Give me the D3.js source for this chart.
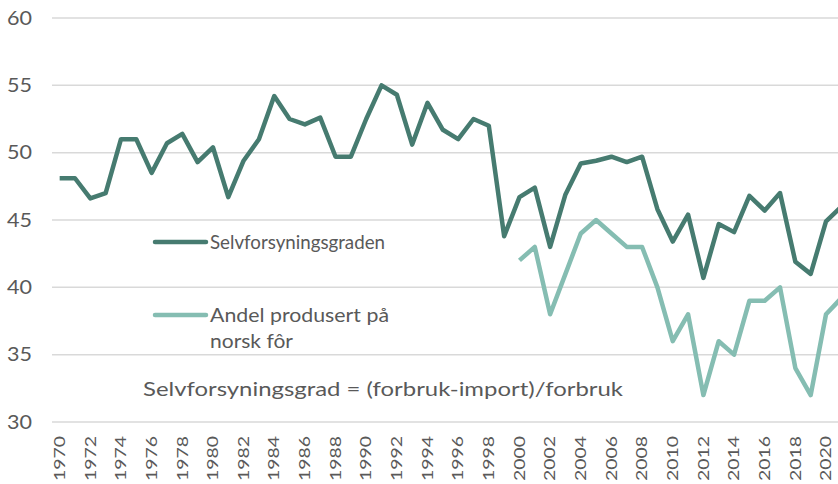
<!DOCTYPE html>
<html>
<head>
<meta charset="utf-8">
<script src="https://cdn.jsdelivr.net/npm/d3@7"></script>
<style>
  html, body { margin: 0; padding: 0; background: #fff; }
  svg { display: block; font-family: Lato, "Open Sans", sans-serif; }
</style>
</head>
<body>
<div id="chart"></div>
<script>
// data
const years = d3.range(1970, 2022);
const selvforsyning = [
  48.1, 48.1, 46.6, 47.0, 51.0, 51.0, 48.5, 50.7, 51.4, 49.3,
  50.4, 46.7, 49.4, 51.0, 54.2, 52.5, 52.1, 52.6, 49.7, 49.7,
  52.5, 55.0, 54.3, 50.6, 53.7, 51.7, 51.0, 52.5, 52.0, 43.8,
  46.7, 47.4, 43.0, 46.9, 49.2, 49.4, 49.7, 49.3, 49.7, 45.8,
  43.4, 45.4, 40.7, 44.7, 44.1, 46.8, 45.7, 47.0, 41.9, 41.0,
  44.9, 46.0
];
const norskFor = [
  null, null, null, null, null, null, null, null, null, null,
  null, null, null, null, null, null, null, null, null, null,
  null, null, null, null, null, null, null, null, null, null,
  42.0, 43.0, 38.0, 41.0, 44.0, 45.0, 44.0, 43.0, 43.0, 40.0,
  36.0, 38.0, 32.0, 36.0, 35.0, 39.0, 39.0, 40.0, 34.0, 32.0,
  38.0, 39.2
];
const yTicks = [30, 35, 40, 45, 50, 55, 60];
const seriesNames = ["Selvforsyningsgraden", "Andel produsert på norsk fôr"];
const note = "Selvforsyningsgrad = (forbruk-import)/forbruk";

const width = 838, height = 484;
const margin = { top: 18, right: -11, bottom: 62, left: 52 };
const darkCol = "#467b70", lightCol = "#85bdb2", textCol = "#595959";

const svg = d3.select("#chart").append("svg")
  .attr("width", width)
  .attr("height", height);

const x = d3.scaleBand()
  .domain(years)
  .range([margin.left, width - margin.right]);

const y = d3.scaleLinear()
  .domain([30, 60])
  .range([height - margin.bottom, margin.top]);

const cx = d => x(d) + x.bandwidth() / 2;

// gridlines
svg.append("g")
  .selectAll("line")
  .data(yTicks)
  .join("line")
  .attr("x1", margin.left)
  .attr("x2", width)
  .attr("y1", d => y(d))
  .attr("y2", d => y(d))
  .attr("stroke", "#d9d9d9")
  .attr("stroke-width", 1.5);

// y axis labels
svg.append("g")
  .selectAll("text")
  .data(yTicks)
  .join("text")
  .attr("x", 32)
  .attr("y", d => y(d))
  .attr("dy", "0.35em")
  .attr("text-anchor", "end")
  .attr("textLength", 25)
  .attr("lengthAdjust", "spacingAndGlyphs")
  .style("font-size", "19px")
  .style("fill", textCol)
  .text(d => d);

// x axis labels (every other year, rotated)
svg.append("g")
  .selectAll("text")
  .data(years.filter(d => d % 2 === 0))
  .join("text")
  .attr("transform", d => `translate(${cx(d)},${y(30) + 14}) rotate(-90)`)
  .attr("dy", "0.35em")
  .attr("text-anchor", "end")
  .attr("textLength", 45)
  .attr("lengthAdjust", "spacingAndGlyphs")
  .style("font-size", "15px")
  .style("fill", textCol)
  .text(d => d);

// lines
const line = d3.line()
  .defined(d => d[1] != null)
  .x(d => cx(d[0]))
  .y(d => y(d[1]));

svg.append("path")
  .datum(years.map((yr, i) => [yr, norskFor[i]]))
  .attr("fill", "none")
  .attr("stroke", lightCol)
  .attr("stroke-width", 4.5)
  .attr("stroke-linejoin", "round")
  .attr("d", line);

svg.append("path")
  .datum(years.map((yr, i) => [yr, selvforsyning[i]]))
  .attr("fill", "none")
  .attr("stroke", darkCol)
  .attr("stroke-width", 4.5)
  .attr("stroke-linejoin", "round")
  .attr("d", line);

// legend
const legend = svg.append("g");
const legendItems = [
  { color: darkCol, ly: 242, lines: [[seriesNames[0], 249, 175]] },
  { color: lightCol, ly: 315, lines: [["Andel produsert på", 322, 179], ["norsk fôr", 348, 83]] }
];
legendItems.forEach(item => {
  legend.append("line")
    .attr("x1", 155).attr("x2", 206)
    .attr("y1", item.ly).attr("y2", item.ly)
    .attr("stroke", item.color)
    .attr("stroke-width", 4.5)
    .attr("stroke-linecap", "round");
  item.lines.forEach(([t, base, len]) => {
    legend.append("text")
      .attr("x", 210)
      .attr("y", base)
      .attr("textLength", len)
      .attr("lengthAdjust", "spacingAndGlyphs")
      .style("font-size", "20px")
      .style("fill", textCol)
      .text(t);
  });
});

// formula note
svg.append("text")
  .attr("x", 143)
  .attr("y", 396)
  .attr("textLength", 480)
  .attr("lengthAdjust", "spacingAndGlyphs")
  .style("font-size", "19px")
  .style("fill", textCol)
  .text(note);
</script>
</body>
</html>
